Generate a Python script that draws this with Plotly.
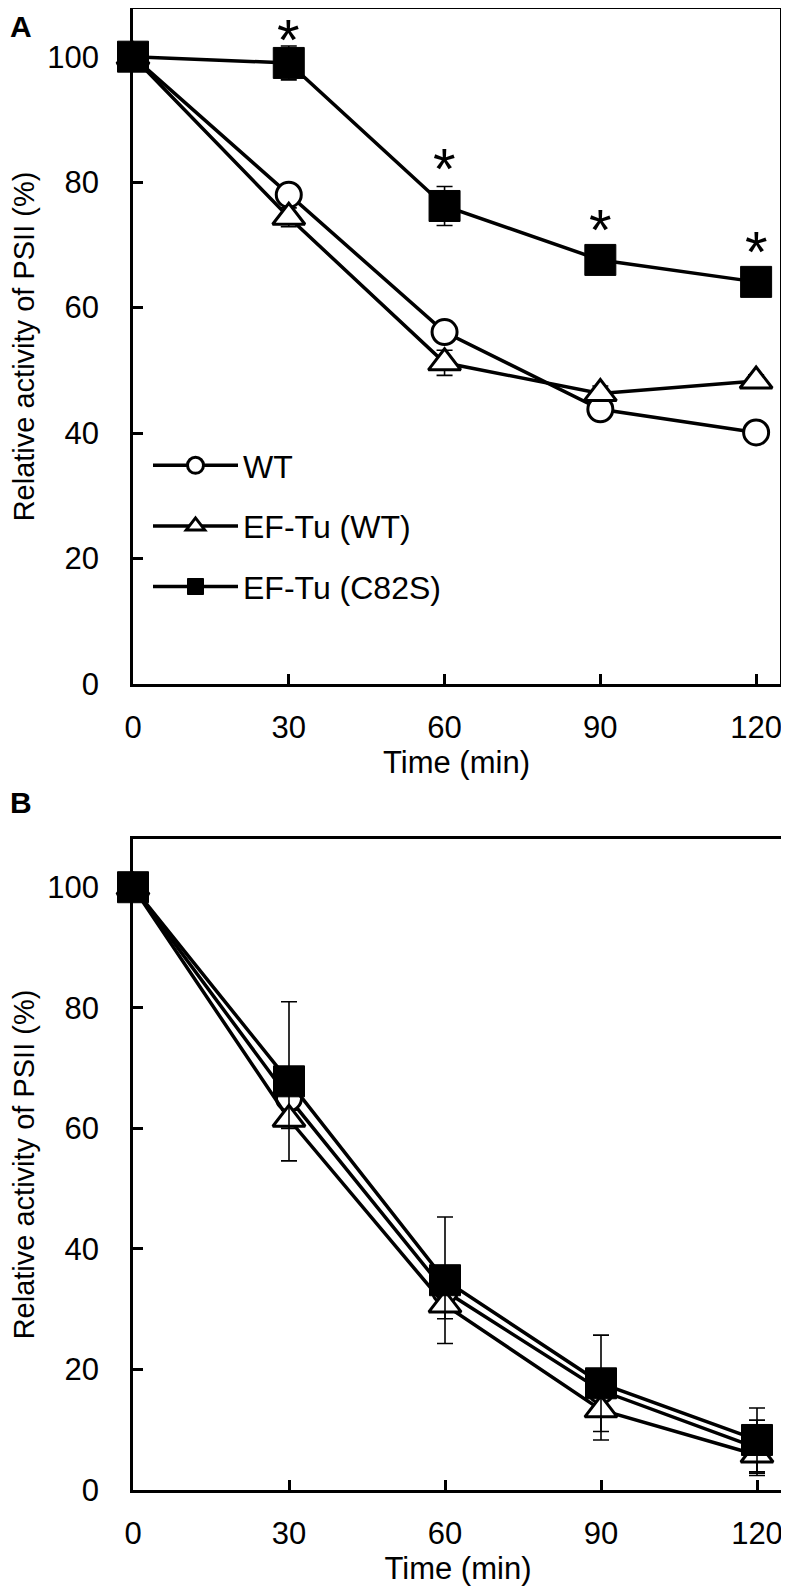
import plotly.graph_objects as go

# ---------------- data ----------------
time_min = [0, 30, 60, 90, 120]
series_names = ["WT", "EF-Tu (WT)", "EF-Tu (C82S)"]

# Panel A
a_wt = [100, 78.0, 56.1, 43.8, 40.1]
a_efwt = [100, 74.4, 51.2, 46.3, 48.3]
a_c82s = [100, 99.0, 76.2, 67.6, 64.1]
a_wt_err = [0, 1.5, 1.5, 1.2, 1.0]
a_efwt_err = [0, 1.5, 2.0, 1.2, 1.0]
a_c82s_err = [0, 2.7, 3.1, 1.2, 1.2]
a_sig_time = [30, 60, 90, 120]
a_sig_y = [105.0, 84.4, 74.7, 71.1]
a_sig_label = ["*", "*", "*", "*"]

# Panel B
b_wt = [100, 65.0, 33.0, 16.5, 7.0]
b_efwt = [100, 61.5, 30.7, 13.3, 5.8]
b_c82s = [100, 67.8, 34.8, 17.7, 8.3]
b_wt_err = [0, 1.5, 3.0, 3.0, 4.6]
b_efwt_err = [0, 1.5, 2.3, 5.0, 3.0]
b_c82s_err = [0, 13.2, 10.5, 8.0, 5.3]

x_ticks = [0, 30, 60, 90, 120]
y_ticks = [0, 20, 40, 60, 80, 100]
x_title = "Time (min)"
y_title = "Relative activity of PSII (%)"
panel_labels = ["A", "B"]

# ---------------- styles ----------------
FONT = "Arial, Liberation Sans, sans-serif"
OFF = 8                      # page body margin of the html file
W, H = 789 - OFF, 1591 - OFF
marker_styles = [
    dict(symbol="circle", size=25, color="white", line=dict(color="black", width=3)),
    dict(symbol="triangle-up", size=28, color="white", line=dict(color="black", width=3)),
    dict(symbol="square", size=31, color="black", line=dict(color="black", width=1)),
]

def px_x(p):
    return min(1.0, max(0.0, (p - OFF) / W))

def px_y(p):
    return min(1.0, max(0.0, 1 - (p - OFF) / H))

fig = go.Figure()

panels = [
    ("x", "y", [a_wt, a_efwt, a_c82s], [a_wt_err, a_efwt_err, a_c82s_err], True),
    ("x2", "y2", [b_wt, b_efwt, b_c82s], [b_wt_err, b_efwt_err, b_c82s_err], False),
]
for xa, ya, vals, errs, show in panels:
    for i, name in enumerate(series_names):
        fig.add_trace(go.Scatter(
            x=time_min, y=vals[i], name=name, mode="lines+markers",
            xaxis=xa, yaxis=ya, showlegend=show, legendgroup=name,
            line=dict(color="black", width=3.5),
            marker=marker_styles[i],
            error_y=dict(type="data", array=errs[i], visible=True,
                         color="black", thickness=1.6, width=8),
            cliponaxis=False,
        ))

# significance asterisks (panel A)
for t, yv, lab in zip(a_sig_time, a_sig_y, a_sig_label):
    fig.add_annotation(x=t, y=yv, xref="x", yref="y", text=lab,
                       showarrow=False, yanchor="middle", yshift=-14,
                       font=dict(family=FONT, size=58, color="black"))

axis_common = dict(
    showgrid=False, zeroline=False, showline=True, linecolor="black",
    linewidth=2.5, mirror=True, ticks="inside", ticklen=10, tickwidth=2.5,
    tickcolor="black", tickfont=dict(family=FONT, size=31, color="black"),
    automargin=False,
)

fig.update_layout(
    width=W, height=H,
    margin=dict(l=0, r=0, t=0, b=0, autoexpand=False),
    paper_bgcolor="white", plot_bgcolor="white",
    font=dict(family=FONT, color="black"),
    showlegend=True,
    legend=dict(x=px_x(148), y=px_y(438), xanchor="left", yanchor="top",
                bgcolor="rgba(0,0,0,0)", font=dict(family=FONT, size=32),
                tracegroupgap=16, itemwidth=85, traceorder="grouped"),
    xaxis=dict(axis_common, domain=[px_x(133), px_x(780)], range=[0, 124.6],
               tickvals=x_ticks, anchor="y", ticklabelstandoff=14,
               title=dict(text=x_title, font=dict(family=FONT, size=31), standoff=4)),
    yaxis=dict(axis_common, domain=[px_y(684), px_y(9)], range=[0, 107.6],
               tickvals=y_ticks, anchor="x", ticklabelstandoff=25,
               title=dict(text=y_title, font=dict(family=FONT, size=29), standoff=10)),
    xaxis2=dict(axis_common, domain=[px_x(133), px_x(783)], range=[0, 125],
                tickvals=x_ticks, anchor="y2", ticklabelstandoff=14,
                title=dict(text=x_title, font=dict(family=FONT, size=31), standoff=4)),
    yaxis2=dict(axis_common, domain=[px_y(1490), px_y(839)], range=[0, 108],
                tickvals=y_ticks, anchor="x2", ticklabelstandoff=25,
                title=dict(text=y_title, font=dict(family=FONT, size=29), standoff=10)),
)

fig.add_annotation(x=0, y=1, xref="paper", yref="paper", text="<b>" + panel_labels[0] + "</b>",
                   showarrow=False, xanchor="left", yanchor="top",
                   font=dict(family=FONT, size=30, color="black"))
fig.add_annotation(x=0, y=px_y(789), xref="paper", yref="paper", text="<b>" + panel_labels[1] + "</b>",
                   showarrow=False, xanchor="left", yanchor="top", yshift=5,
                   font=dict(family=FONT, size=30, color="black"))

fig.write_html("out.html")
